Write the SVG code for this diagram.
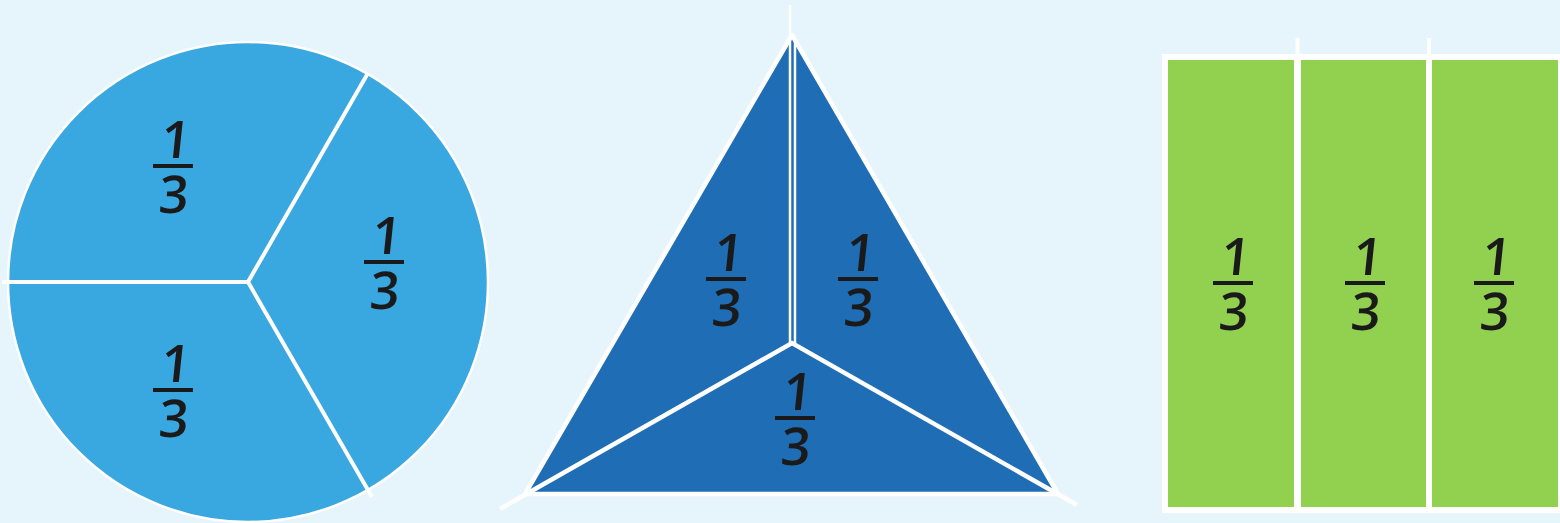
<svg xmlns="http://www.w3.org/2000/svg" width="1560" height="523" viewBox="0 0 1560 523">
<style>
.num{font-family:"Open Sans","Liberation Sans",sans-serif;font-size:52px;font-weight:600;fill:#1a1a1a;text-anchor:middle}
.bar{stroke:#1a1a1a;stroke-width:4}
.w{stroke:#ffffff;fill:none}
</style>
<defs>
<g id="frac">
<text class="num" x="0" y="-8" transform="skewX(-6)">1</text>
<line class="bar" x1="-20" y1="0" x2="20" y2="0"/>
<text class="num" x="3" y="47" transform="skewX(-4)">3</text>
</g>
</defs>
<rect width="1560" height="523" fill="#e6f4fc"/>
<g id="circle">
<circle cx="248" cy="282" r="240" class="w" style="fill:#3aa8e0" stroke-width="2.5"/>
<path class="w" stroke-width="4" d="M2 282H248L368 73M248 282L372 497"/>
<use href="#frac" x="173" y="166"/>
<use href="#frac" x="384" y="262"/>
<use href="#frac" x="173" y="390"/>
</g>
<g id="triangle">
<path d="M792 35L525 494H1058Z" fill="#1e6db5" stroke="#ffffff" stroke-width="4.5" stroke-linejoin="round"/>
<path class="w" stroke-width="4.5" d="M500 509L792 343L1077 505"/>
<path class="w" stroke-width="2.5" d="M790 5V343M795 40V343"/>
<use href="#frac" x="726" y="279"/>
<use href="#frac" x="858" y="279"/>
<use href="#frac" x="795" y="418"/>
</g>
<g id="bar">
<rect x="1162" y="54" width="400" height="459" fill="#ffffff"/>
<rect x="1168" y="60" width="126" height="447" fill="#92d050"/>
<rect x="1301" y="60" width="125" height="447" fill="#92d050"/>
<rect x="1432" y="60" width="126" height="447" fill="#92d050"/>
<path class="w" stroke-width="4" d="M1297.5 38V60M1429 38V60"/>
<use href="#frac" x="1233" y="283"/>
<use href="#frac" x="1365" y="283"/>
<use href="#frac" x="1494" y="283"/>
</g>
</svg>
